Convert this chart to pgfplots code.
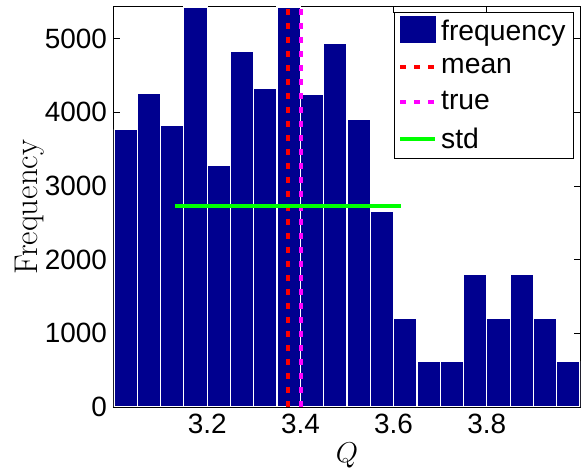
\documentclass[border=0pt]{standalone}
\usepackage{fontspec}
\setmainfont{Liberation Sans}
\newfontfamily\lmfont{Latin Modern Roman}
\usepackage{pgfplots}
\pgfplotsset{compat=1.18}
\definecolor{barblue}{RGB}{0,0,143}
\definecolor{mag}{RGB}{255,0,255}
\definecolor{grn}{RGB}{0,255,0}
\definecolor{rd}{RGB}{255,0,0}

\begin{document}
\begin{tikzpicture}
\begin{axis}[name=main,
  scale only axis, width=233bp, height=200bp,
  xmin=3.0, xmax=4.0, ymin=0, ymax=5430,
  xtick={3.2,3.4,3.6,3.8}, ytick={0,1000,2000,3000,4000,5000},
  /pgf/number format/assume math mode=true,
  /pgf/number format/1000 sep={},
  xticklabel style={/pgf/number format/fixed, /pgf/number format/precision=1, /pgf/number format/fixed zerofill},
  tick label style={font=\fontsize{14}{16}\selectfont},
  tick align=inside, major tick length=3bp,
  axis line style={line width=0.5bp}, every tick/.style={black, line width=0.5bp},
  xlabel={$Q$}, ylabel={\lmfont Frequency},
  ylabel style={font=\fontsize{16.5}{18}\selectfont, at={(rel axis cs:0,0.5)}, anchor=center, yshift=42bp},
  xlabel style={font=\fontsize{15}{17}\selectfont, at={(rel axis cs:0.5,0)}, anchor=center, yshift=-24bp},
  legend cell align=left,
  legend style={at={(rel axis cs:0.987,0.987)}, anchor=north east, draw=black, line width=0.5bp,
    font=\fontsize{14.2}{16}\selectfont, row sep=3.5bp, inner xsep=2bp, inner ysep=1.5bp},
  mylegend/.style={legend image code/.code={\draw[##1] (0bp,0bp)--(17.5bp,0bp);}},
]
\addplot[ybar interval, fill=barblue, draw=white, line width=0.6bp,
  legend image code/.code={\fill[barblue] (0bp,-5.5bp) rectangle (17.5bp,7.5bp);}]
coordinates {
(3.00,3764) (3.05,4253) (3.10,3818) (3.15,5430) (3.20,3274)
(3.25,4823) (3.30,4321) (3.35,5430) (3.40,4239) (3.45,4932)
(3.50,3899) (3.55,2654) (3.60,1209) (3.65,616) (3.70,616)
(3.75,1803) (3.80,1209) (3.85,1803) (3.90,1209) (3.95,616)
(4.00,616)};
\addlegendentry{frequency}
\addplot[rd, line width=2bp, dash pattern=on 3bp off 4bp, mylegend] coordinates {(3.373,0) (3.373,5430)};
\addlegendentry{mean}
\addplot[mag, line width=2bp, dash pattern=on 3bp off 4bp, mylegend] coordinates {(3.401,0) (3.401,5430)};
\addlegendentry{true}
\addplot[grn, line width=2bp, mylegend] coordinates {(3.131,2731) (3.615,2731)};
\addlegendentry{std}
\end{axis}
\pgfresetboundingbox
\path[use as bounding box] ([shift={(-57bp,-32.5bp)}]main.south west) rectangle ([shift={(1.5bp,3.5bp)}]main.north east);
\end{tikzpicture}
\end{document}
